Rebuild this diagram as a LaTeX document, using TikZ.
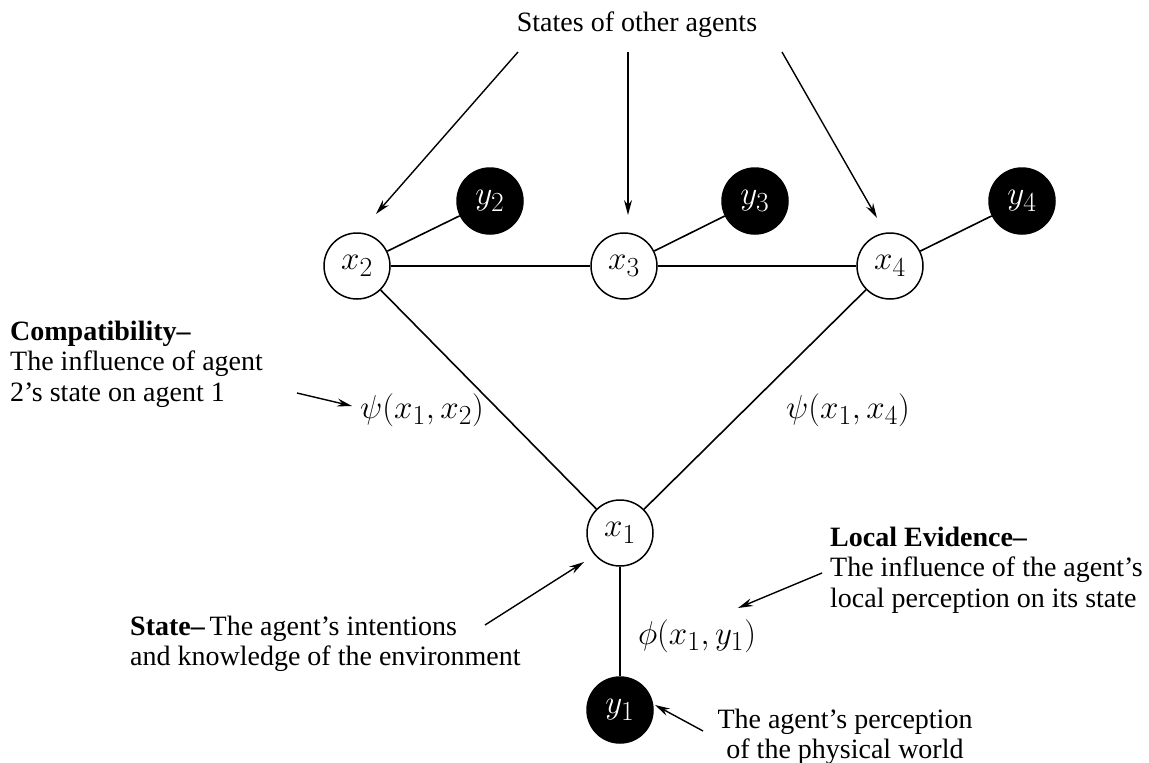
\documentclass[tikz,border=0pt]{standalone}
\usepackage{graphicx}
\usepackage{fontspec}
\setmainfont{Liberation Serif}
\usetikzlibrary{arrows.meta}
\newcommand{\txtfont}{\fontsize{28}{30.5}\selectfont}
\newcommand{\mm}[1]{\scalebox{1.33}{\fontsize{24.88}{27}\selectfont$#1$}}
\tikzset{
  var/.style={circle,draw=black,line width=1.5pt,minimum size=66pt,inner sep=0pt,fill=white},
  obs/.style={circle,draw=black,fill=black,text=white,line width=1.5pt,minimum size=66pt,inner sep=0pt},
  edge/.style={line width=1.6pt},
  pointer/.style={line width=1.4pt,-{Stealth[length=15pt,width=8pt,inset=5pt]}},
  txt/.style={font=\txtfont,inner sep=0pt},
  mlab/.style={inner sep=0pt}
}
\begin{document}
\begin{tikzpicture}[x=1pt,y=-1pt]
\useasboundingbox (0,0) rectangle (1149,763);
% nodes
\node[var] (x2) at (357,266) {\mm{x_2}};
\node[var] (x3) at (624,266) {\mm{x_3}};
\node[var] (x4) at (890,266) {\mm{x_4}};
\node[var] (x1) at (620,533) {\mm{x_1}};
\node[obs] (y2) at (490,201) {\mm{y_2}};
\node[obs] (y3) at (755,201) {\mm{y_3}};
\node[obs] (y4) at (1022,201) {\mm{y_4}};
\node[obs] (y1) at (620,710) {\mm{y_1}};
% edges
\draw[edge] (x2) -- (x3);
\draw[edge] (x3) -- (x4);
\draw[edge] (x2) -- (x1);
\draw[edge] (x4) -- (x1);
\draw[edge] (x1) -- (y1);
\draw[edge] (x2) -- (y2);
\draw[edge] (x3) -- (y3);
\draw[edge] (x4) -- (y4);
% labels
\node[mlab] (psi12) at (422,410) {\mm{\psi(x_1,x_2)}};
\node[mlab] (psi14) at (848,410) {\mm{\psi(x_1,x_4)}};
\node[mlab] (phi) at (697,636) {\mm{\phi(x_1,y_1)}};
% texts
\node[txt] (others) at (637,25) {States of other agents};
\node[txt,anchor=west,align=left] (compat) at (10,364) {\textbf{Compatibility--}\\The influence of agent\\2’s state on agent 1};
\node[txt,anchor=west,align=left] (local) at (830,570) {\textbf{Local Evidence--}\\The influence of the agent’s\\local perception on its state};
\node[txt,anchor=west,align=left] (state) at (130,644) {\textbf{State--}\,The agent’s intentions\\and knowledge of the environment};
\node[txt,align=center] (percep) at (845,737) {The agent’s perception\\of the physical world};
% pointer coordinates
\coordinate (a1s) at (518,52); \coordinate (a1e) at (376,214);
\coordinate (a2s) at (628,52); \coordinate (a2e) at (628,215);
\coordinate (a3s) at (782,52); \coordinate (a3e) at (877,218);
\coordinate (cs) at (297,393); \coordinate (ce) at (352,406);
\coordinate (ls) at (822,573); \coordinate (le) at (738,608);
\coordinate (ss) at (485,625); \coordinate (se) at (584,562);
\coordinate (ps) at (703,731); \coordinate (pe) at (655,705);
\draw[pointer] (a1s) -- (a1e);
\draw[pointer] (a2s) -- (a2e);
\draw[pointer] (a3s) -- (a3e);
\draw[pointer] (cs) -- (ce);
\draw[pointer] (ls) -- (le);
\draw[pointer] (ss) -- (se);
\draw[pointer] (ps) -- (pe);
\end{tikzpicture}
\end{document}
